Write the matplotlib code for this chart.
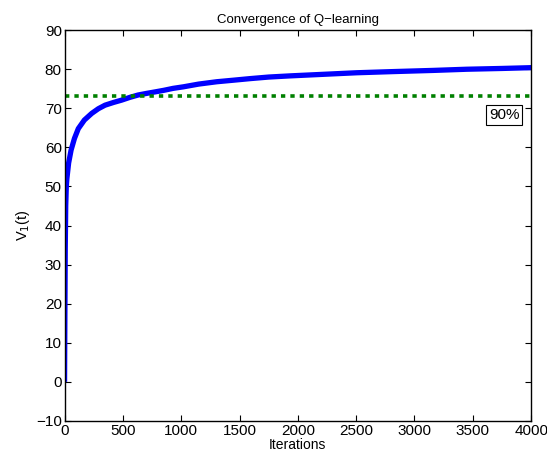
import matplotlib
matplotlib.use('Agg')
import matplotlib.pyplot as plt

plt.rcParams['font.family'] = ['Liberation Sans', 'DejaVu Sans']

# value estimates
iters = [0, 3, 6, 10, 15, 20, 35, 56, 85, 118, 170, 233, 290, 347, 420, 490, 560, 630,
         700, 776, 850, 930, 1019, 1150, 1305, 1450, 1591, 1750, 1934, 2219, 2505,
         2819, 3162, 3448, 3750, 4000]
v1 = [0, 18, 34, 45, 50, 52, 56, 59.3, 62.3, 64.8, 67.0, 68.7, 69.9, 70.8, 71.5, 72.1,
      72.8, 73.4, 73.8, 74.2, 74.6, 75.1, 75.5, 76.2, 76.8, 77.2, 77.6, 78.0, 78.3,
      78.7, 79.1, 79.4, 79.7, 80.0, 80.2, 80.4]
target = 73.1
label_x, label_y = 3768, 68.2

fig = plt.figure(figsize=(5.47, 4.57), dpi=100)
ax = fig.add_axes([0.118, 0.079, 0.853, 0.855])

ax.plot(iters, v1, color='#0000ff', linewidth=3.8, solid_capstyle='butt')
ax.axhline(target, color='#008000', linestyle=(0, (1.2, 1.4)), linewidth=2.6)
ax.text(label_x, label_y, '90%', fontsize=11, ha='center', va='center',
        bbox=dict(boxstyle='square,pad=0.2', facecolor='white', edgecolor='black', linewidth=0.8))

ax.set_xlim(0, 4000)
ax.set_ylim(-10, 90)
ax.set_xticks(range(0, 4001, 500))
ax.set_yticks(range(-10, 91, 10))
ax.set_yticklabels(['\u221210'] + [str(v) for v in range(0, 91, 10)])
ax.tick_params(direction='in', top=True, right=True, length=4, labelsize=11, pad=2)
for s in ax.spines.values():
    s.set_linewidth(1.0)

ax.set_title('Convergence of Q\u2212learning', fontsize=9.5, pad=5)
ax.set_xlabel('Iterations', fontsize=10, labelpad=0.5)
ax.set_ylabel('V$_1$(t)', fontsize=10.5, labelpad=3)

fig.savefig('out.png', dpi=100)
